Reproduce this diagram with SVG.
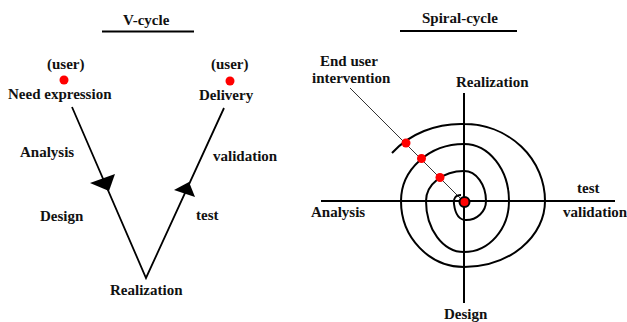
<svg xmlns="http://www.w3.org/2000/svg" width="627" height="322" viewBox="0 0 627 322">
<style>
text{font-family:'Liberation Serif','DejaVu Serif',serif;font-size:15px;font-weight:bold;fill:#111}
.ln{stroke:#000;stroke-width:1.8;fill:none}
.ax{stroke:#000;stroke-width:2;fill:none}
.dot{fill:#ff0000}
</style>
<rect width="627" height="322" fill="#fff"/>
<g id="v-title"><text x="123" y="25" font-family="Liberation Serif, serif">V-cycle</text><line class="ax" x1="102" y1="31.5" x2="194" y2="31.5"/></g>
<g id="need-expression"><text x="47" y="69">(user)</text><circle class="dot" cx="64" cy="80" r="4.5"/><text x="8" y="99">Need expression</text></g>
<g id="delivery"><text x="211" y="69">(user)</text><circle class="dot" cx="230" cy="81" r="4.5"/><text x="199" y="100">Delivery</text></g>
<g id="v-analysis"><text x="20" y="157">Analysis</text></g>
<g id="v-validation"><text x="213" y="161">validation</text></g>
<g id="v-design"><text x="40" y="221">Design</text></g>
<g id="v-test"><text x="196" y="220">test</text></g>
<g id="v-realization"><text x="110" y="295">Realization</text></g>
<g id="v-connectors">
<polyline class="ln" points="72,107 146,278 224,108"/>
<polygon points="90,183 115,174 109,191" fill="#000"/>
<polygon points="189,182 174,190 195,197" fill="#000"/>
</g>
<g id="s-title"><text x="422" y="23">Spiral-cycle</text><line class="ax" x1="400" y1="31" x2="517" y2="31"/></g>
<g id="s-enduser"><text x="320" y="66">End user</text><text x="312" y="83">intervention</text></g>
<g id="s-realization"><text x="456" y="87">Realization</text></g>
<g id="s-analysis"><text x="311" y="217">Analysis</text></g>
<g id="s-test"><text x="577" y="193">test</text></g>
<g id="s-validation"><text x="563" y="217">validation</text></g>
<g id="s-design"><text x="444" y="319">Design</text></g>
<g id="spiral">
<line class="ax" x1="464" y1="93" x2="464" y2="303"/>
<line class="ax" x1="321" y1="201" x2="615" y2="201"/>
<line x1="350" y1="88" x2="464" y2="202" stroke="#000" stroke-width="0.8"/>
<path class="ax" d="M461,195 Q453,195 454,204 Q456,220 466,220 A20 19 0 0 0 486 201 A22 30 0 0 0 464 171 A38 30 0 0 0 426 201 A38 51 0 0 0 464 252 A45 51 0 0 0 509 201 A45 57 0 0 0 464 144 A63 57 0 0 0 401 201 A63 66 0 0 0 464 267 A81 66 0 0 0 545 201 A81 77 0 0 0 464 124 A88 77 0 0 0 392 153"/>
<circle class="dot" cx="440" cy="177.5" r="4.5"/>
<circle class="dot" cx="421.5" cy="158.5" r="4.5"/>
<circle class="dot" cx="406" cy="143" r="4.5"/>
<circle class="dot" cx="464.5" cy="202" r="5" stroke="#000" stroke-width="2"/>
</g>
</svg>
